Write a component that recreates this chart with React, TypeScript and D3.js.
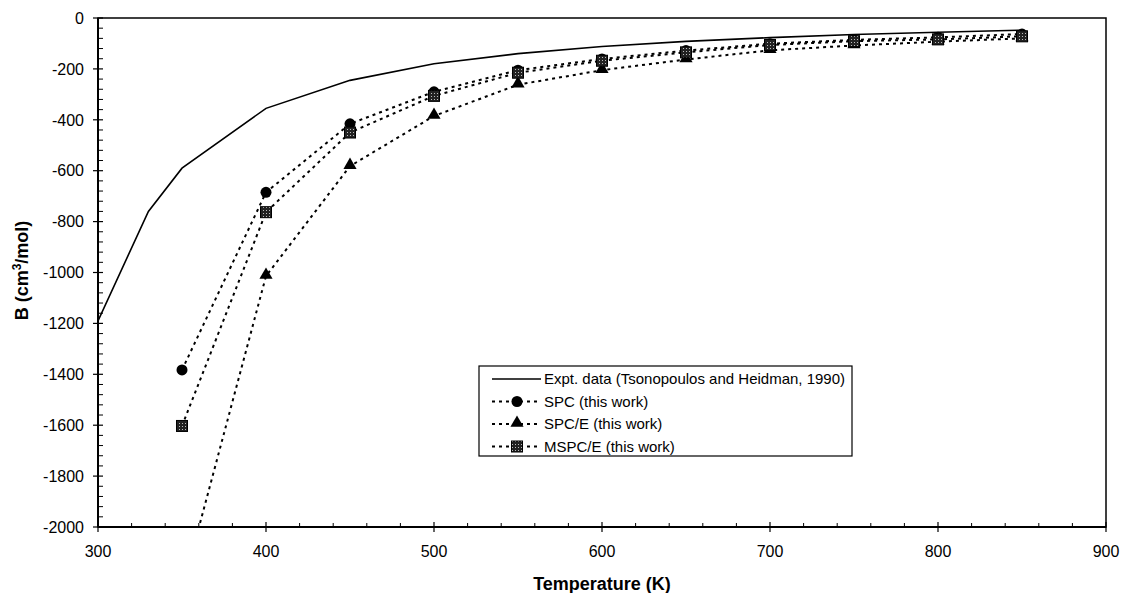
import React, { useEffect, useRef } from "react";
import * as d3 from "d3";

// temperatures (K)
const exptT = [300, 330, 350, 400, 450, 500, 550, 600, 650, 700, 750, 800, 850];
const exptB = [-1190, -760, -590, -355, -245, -180, -140, -112, -92, -77, -65, -56, -48];

const simT = [350, 400, 450, 500, 550, 600, 650, 700, 750, 800, 850];
const spcB = [-1383, -685, -416, -290, -205, -161, -128, -101, -86, -76, -63];
const spceB = [-2250, -1014, -582, -385, -262, -205, -163, -127, -108, -93, -80];
const mspceB = [-1603, -763, -450, -306, -215, -168, -135, -106, -91, -84, -72];

const xTicks = [300, 400, 500, 600, 700, 800, 900];
const yTicks = [0, -200, -400, -600, -800, -1000, -1200, -1400, -1600, -1800, -2000];

const legendLabels = [
  "Expt. data (Tsonopoulos and Heidman, 1990)",
  "SPC (this work)",
  "SPC/E (this work)",
  "MSPC/E (this work)",
];

const W = 1122;
const H = 593;
const margin = { top: 18, right: 16, bottom: 66, left: 98 };

export default function App() {
  const ref = useRef<SVGSVGElement>(null);

  useEffect(() => {
    const svg = d3.select(ref.current);
    svg.selectAll("*").remove();

    const width = W - margin.left - margin.right;
    const height = H - margin.top - margin.bottom;
    const font = "Arial, 'Liberation Sans', sans-serif";

    const x = d3.scaleLinear().domain([300, 900]).range([0, width]);
    const y = d3.scaleLinear().domain([-2000, 0]).range([height, 0]);

    const defs = svg.append("defs");
    defs
      .append("clipPath")
      .attr("id", "plotclip")
      .append("rect")
      .attr("width", width)
      .attr("height", height);
    const pat = defs
      .append("pattern")
      .attr("id", "sqpat")
      .attr("width", 3)
      .attr("height", 3)
      .attr("patternUnits", "userSpaceOnUse");
    pat.append("rect").attr("width", 3).attr("height", 3).attr("fill", "#222");
    pat.append("rect").attr("width", 1).attr("height", 1).attr("fill", "#bbb");

    const g = svg
      .append("g")
      .attr("transform", "translate(" + margin.left + "," + margin.top + ")");

    // frame
    g.append("rect")
      .attr("width", width)
      .attr("height", height)
      .attr("fill", "none")
      .attr("stroke", "#000")
      .attr("stroke-width", 1.5);

    // x axis
    const xa = g.append("g").attr("transform", "translate(0," + height + ")");
    xa.selectAll(".minor")
      .data(d3.range(300, 901, 20).filter(v => v % 100 !== 0))
      .enter()
      .append("line")
      .attr("x1", d => x(d))
      .attr("x2", d => x(d))
      .attr("y1", 0)
      .attr("y2", -4)
      .attr("stroke", "#000");
    xa.selectAll(".major")
      .data(xTicks)
      .enter()
      .append("line")
      .attr("x1", d => x(d))
      .attr("x2", d => x(d))
      .attr("y1", -5)
      .attr("y2", 5)
      .attr("stroke", "#000")
      .attr("stroke-width", 1.2);
    xa.selectAll(".lbl")
      .data(xTicks)
      .enter()
      .append("text")
      .attr("x", d => x(d))
      .attr("y", 30)
      .attr("text-anchor", "middle")
      .attr("font-family", font)
      .attr("font-size", 16)
      .text(d => d);

    // y axis
    const ya = g.append("g");
    ya.selectAll(".minor")
      .data(d3.range(-2000, 1, 40).filter(v => v % 200 !== 0))
      .enter()
      .append("line")
      .attr("x1", 0)
      .attr("x2", 5)
      .attr("y1", d => y(d))
      .attr("y2", d => y(d))
      .attr("stroke", "#000");
    ya.selectAll(".major")
      .data(yTicks)
      .enter()
      .append("line")
      .attr("x1", -5)
      .attr("x2", 5)
      .attr("y1", d => y(d))
      .attr("y2", d => y(d))
      .attr("stroke", "#000")
      .attr("stroke-width", 1.2);
    ya.selectAll(".lbl")
      .data(yTicks)
      .enter()
      .append("text")
      .attr("x", -14)
      .attr("y", d => y(d))
      .attr("dy", "0.36em")
      .attr("text-anchor", "end")
      .attr("font-family", font)
      .attr("font-size", 16)
      .text(d => d);
    g.append("line")
      .attr("y1", 0)
      .attr("y2", height)
      .attr("stroke", "#000")
      .attr("stroke-width", 2);
    g.append("line")
      .attr("x1", 0)
      .attr("x2", width)
      .attr("y1", height)
      .attr("y2", height)
      .attr("stroke", "#000")
      .attr("stroke-width", 2);

    // axis titles
    g.append("text")
      .attr("x", x(600))
      .attr("y", height + 63)
      .attr("text-anchor", "middle")
      .attr("font-family", font)
      .attr("font-size", 18)
      .attr("font-weight", "bold")
      .text("Temperature (K)");
    const yt = g
      .append("text")
      .attr("transform", "translate(-70," + (height / 2 - 2) + ") rotate(-90)")
      .attr("text-anchor", "middle")
      .attr("font-family", font)
      .attr("font-size", 18)
      .attr("font-weight", "bold");
    yt.append("tspan").text("B (cm");
    yt.append("tspan").attr("baseline-shift", "super").attr("font-size", 12).text("3");
    yt.append("tspan").text("/mol)");

    // series
    const plot = g.append("g").attr("clip-path", "url(#plotclip)");
    const line = d3
      .line<[number, number]>()
      .x(d => x(d[0]))
      .y(d => y(d[1]));

    plot
      .append("path")
      .datum(exptT.map((t, i) => [t, exptB[i]] as [number, number]))
      .attr("d", line)
      .attr("fill", "none")
      .attr("stroke", "#000")
      .attr("stroke-width", 1.6);

    const sims = [
      { vals: spcB, marker: "circle" },
      { vals: spceB, marker: "triangle" },
      { vals: mspceB, marker: "square" },
    ];

    const drawMarker = (sel: any, kind: string, cx: number, cy: number) => {
      if (kind === "circle") {
        sel.append("circle").attr("cx", cx).attr("cy", cy).attr("r", 5.5).attr("fill", "#000");
      } else if (kind === "triangle") {
        const s = d3.symbol().type(d3.symbolTriangle).size(75);
        sel.append("path")
          .attr("d", s())
          .attr("transform", "translate(" + cx + "," + (cy - 1) + ")")
          .attr("fill", "#000");
      } else {
        sel.append("rect")
          .attr("x", cx - 5.5)
          .attr("y", cy - 5.5)
          .attr("width", 11)
          .attr("height", 11)
          .attr("fill", "url(#sqpat)")
          .attr("stroke", "#000")
          .attr("stroke-width", 1);
      }
    };

    sims.forEach(s => {
      plot
        .append("path")
        .datum(simT.map((t, i) => [t, s.vals[i]] as [number, number]))
        .attr("d", line)
        .attr("fill", "none")
        .attr("stroke", "#000")
        .attr("stroke-width", 2)
        .attr("stroke-dasharray", "3,4");
    });
    sims.forEach(s => {
      simT.forEach((t, i) => drawMarker(plot, s.marker, x(t), y(s.vals[i])));
    });

    // legend
    const lg = svg.append("g").attr("transform", "translate(479,366)");
    lg.append("rect")
      .attr("width", 373)
      .attr("height", 90)
      .attr("fill", "#fff")
      .attr("stroke", "#000")
      .attr("stroke-width", 1.2);
    legendLabels.forEach((lab, i) => {
      const ry = 13 + i * 22.5;
      const row = lg.append("g");
      row.append("line")
        .attr("x1", 13)
        .attr("x2", 62)
        .attr("y1", ry)
        .attr("y2", ry)
        .attr("stroke", "#000")
        .attr("stroke-width", i === 0 ? 1.6 : 2)
        .attr("stroke-dasharray", i === 0 ? null : "3,4");
      if (i > 0) drawMarker(row, sims[i - 1].marker, 38, ry);
      row.append("text")
        .attr("x", 65)
        .attr("y", ry)
        .attr("dy", "0.36em")
        .attr("font-family", font)
        .attr("font-size", 15)
        .text(lab);
    });
  }, []);

  return (
    <svg
      ref={ref}
      width={W}
      height={H}
      style={{ position: "absolute", left: 0, top: 0, background: "#fff" }}
    />
  );
}
